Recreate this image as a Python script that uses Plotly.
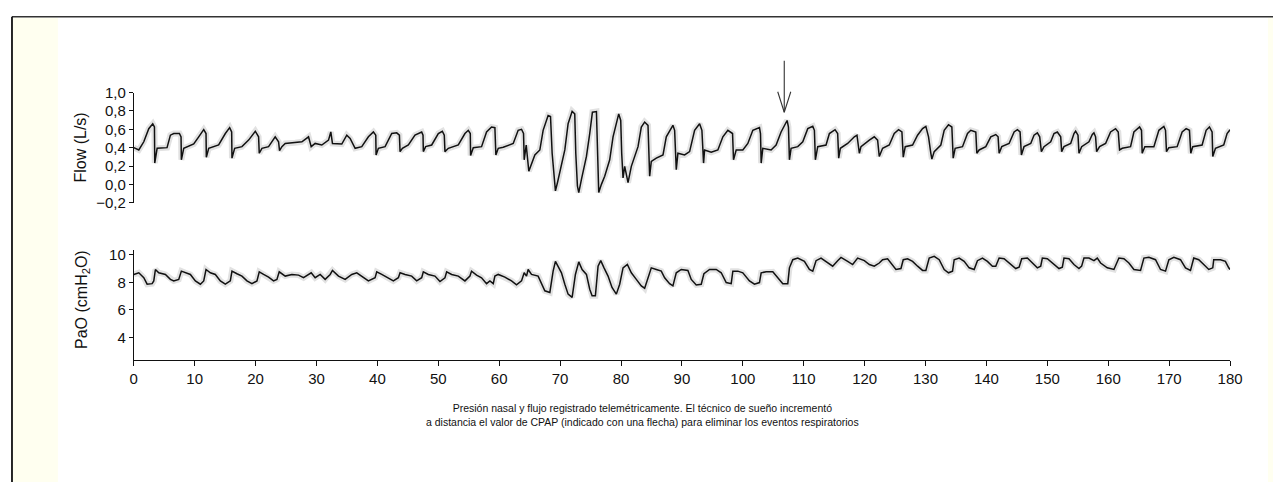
import plotly.graph_objects as go

# ---------------- data ----------------
flow_time = [
    0, 0.82, 1.64, 2.46, 3.11, 3.39, 3.44, 3.83, 5.46, 6.01, 6.56, 7.49, 7.76, 7.81, 8.20,
    9.84, 10.66, 11.48, 11.86, 11.91, 12.30, 13.93, 15.03, 15.74, 16.07, 16.12, 16.56,
    17.76, 18.85, 19.95, 20.49, 20.60, 21.04, 22.13, 23.22, 23.77, 23.93, 24.32, 24.86,
    26.50, 27.60, 28.69, 29.13, 29.78, 30.87, 31.97, 32.35, 32.62, 34.15, 34.97, 35.52,
    36.34, 37.43, 38.52, 39.34, 39.73, 39.78, 40.16, 41.26, 42.35, 43.17, 43.61, 43.72,
    44.10, 45.08, 46.17, 47.27, 47.49, 47.54, 47.92, 48.91, 50.00, 50.66, 50.98, 51.09,
    51.64, 53.28, 54.37, 54.92, 55.25, 55.30, 55.74, 57.10, 57.92, 58.74, 59.29, 59.45,
    59.84, 60.66, 62.30, 63.11, 63.66, 63.99, 64.10, 64.43, 64.86, 65.85, 66.67, 67.21,
    68.03, 68.42, 68.69, 69.02, 69.23, 69.56, 70.22, 70.77, 71.31, 71.97, 72.40, 72.57,
    72.84, 73.06, 73.50, 74.32, 74.86, 75.30, 75.96, 76.12, 76.34, 76.78, 77.32, 78.14,
    78.69, 79.62, 79.95, 80.11, 80.33, 80.60, 81.15, 81.69, 82.79, 83.33, 83.88, 84.43,
    84.70, 84.97, 85.79, 86.89, 87.43, 88.52, 88.80, 89.07, 89.34, 90.44, 91.26, 92.08,
    92.90, 93.28, 93.55, 93.72, 94.81, 95.90, 96.72, 97.54, 98.31, 98.47, 98.91, 100.0,
    100.82, 101.64, 102.73, 102.90, 103.01, 103.28, 104.64, 105.46, 106.28, 107.27, 107.49,
    107.65, 107.92, 109.02, 109.84, 110.66, 111.48, 111.75, 111.91, 112.30, 113.66, 114.21,
    115.14, 115.57, 115.74, 116.01, 117.21, 118.31, 118.74, 119.13, 119.40, 120.77, 121.58,
    122.13, 122.40, 122.95, 124.04, 124.86, 125.57, 126.12, 126.34, 126.67, 127.87, 128.69,
    129.51, 130.05, 130.49, 130.87, 131.04, 131.42, 132.51, 133.06, 133.77, 134.32, 134.54,
    134.86, 136.07, 136.89, 137.43, 138.25, 138.42, 138.80, 139.89, 140.71, 141.53, 141.91,
    142.08, 142.51, 143.72, 144.54, 145.08, 145.52, 145.74, 146.17, 147.27, 147.81, 148.36,
    148.74, 149.02, 149.45, 150.55, 151.09, 151.64, 152.19, 152.35, 152.73, 153.83, 154.37,
    154.64, 155.03, 155.19, 155.63, 156.83, 157.38, 157.65, 157.92, 158.09, 158.58, 159.56,
    160.38, 161.20, 161.64, 161.86, 162.30, 163.66, 164.21, 165.14, 165.46, 165.57, 166.01,
    167.49, 168.31, 169.13, 169.40, 169.56, 169.95, 171.31, 172.13, 172.79, 173.33, 173.55,
    173.88, 175.41, 176.07, 176.61, 177.05, 177.16, 177.60, 178.96, 179.51, 180.0,
]
flow_lps = [
    0.40, 0.375, 0.464, 0.607, 0.66, 0.625, 0.232, 0.393, 0.40, 0.536, 0.554, 0.554, 0.518, 0.268, 0.393,
    0.44, 0.518, 0.596, 0.554, 0.296, 0.393, 0.429, 0.554, 0.618, 0.571, 0.286, 0.393,
    0.411, 0.482, 0.579, 0.518, 0.339, 0.393, 0.411, 0.518, 0.464, 0.368, 0.411, 0.446,
    0.454, 0.464, 0.518, 0.411, 0.446, 0.429, 0.482, 0.571, 0.446, 0.439, 0.536, 0.50,
    0.393, 0.411, 0.518, 0.571, 0.536, 0.321, 0.393, 0.411, 0.554, 0.561, 0.536, 0.357,
    0.393, 0.429, 0.536, 0.571, 0.536, 0.357, 0.411, 0.429, 0.554, 0.579, 0.536, 0.357,
    0.393, 0.429, 0.554, 0.589, 0.554, 0.314, 0.40, 0.411, 0.571, 0.625, 0.618, 0.321,
    0.393, 0.404, 0.446, 0.589, 0.60, 0.554, 0.268, 0.429, 0.143, 0.321, 0.375, 0.589,
    0.75, 0.739, 0.339, 0.018, -0.071, 0.018, 0.196, 0.375, 0.661, 0.796, 0.768, 0.339,
    -0.018, -0.089, 0.054, 0.304, 0.554, 0.786, 0.793, 0.339, -0.089, 0.0, 0.089, 0.268,
    0.518, 0.768, 0.696, 0.339, 0.071, 0.196, 0.018, 0.196, 0.411, 0.625, 0.679, 0.643,
    0.089, 0.25, 0.286, 0.321, 0.518, 0.643, 0.589, 0.161, 0.339, 0.321, 0.357, 0.589,
    0.661, 0.589, 0.232, 0.375, 0.35, 0.375, 0.518, 0.589, 0.554, 0.268, 0.375, 0.375,
    0.446, 0.589, 0.618, 0.554, 0.232, 0.393, 0.375, 0.429, 0.571, 0.696, 0.625,
    0.268, 0.393, 0.411, 0.464, 0.607, 0.632, 0.589, 0.268, 0.411, 0.429, 0.554,
    0.596, 0.554, 0.286, 0.393, 0.446, 0.518, 0.536, 0.339, 0.411, 0.482, 0.518,
    0.482, 0.304, 0.393, 0.429, 0.554, 0.596, 0.571, 0.296, 0.411, 0.429, 0.536,
    0.607, 0.632, 0.518, 0.339, 0.275, 0.357, 0.429, 0.589, 0.65, 0.625, 0.286,
    0.393, 0.411, 0.554, 0.589, 0.571, 0.339, 0.375, 0.411, 0.518, 0.543, 0.518,
    0.339, 0.411, 0.446, 0.571, 0.596, 0.571, 0.321, 0.411, 0.446, 0.536, 0.561,
    0.518, 0.357, 0.411, 0.464, 0.554, 0.571, 0.518, 0.357, 0.411, 0.446, 0.554,
    0.579, 0.536, 0.339, 0.411, 0.464, 0.543, 0.561, 0.518, 0.357, 0.411, 0.446,
    0.571, 0.607, 0.571, 0.375, 0.393, 0.411, 0.571, 0.625, 0.589, 0.339, 0.411,
    0.411, 0.589, 0.632, 0.589, 0.357, 0.40, 0.411, 0.571, 0.607, 0.589, 0.339,
    0.411, 0.429, 0.589, 0.625, 0.571, 0.304, 0.393, 0.429, 0.554, 0.596,
]

pao_time = [
    0, 0.82, 1.64, 2.19, 3.01, 3.28, 3.55, 4.10, 5.19, 6.01, 6.56, 7.38, 7.81, 8.47, 9.29,
    10.11, 10.93, 11.48, 11.86, 12.57, 13.39, 14.21, 15.03, 15.85, 16.12, 16.94, 17.76,
    18.58, 19.40, 20.22, 20.60, 21.31, 22.13, 22.95, 23.50, 23.88, 24.86, 25.96, 27.05,
    27.87, 28.69, 29.13, 29.78, 30.60, 31.42, 32.24, 32.62, 33.61, 34.70, 35.79, 36.61,
    37.43, 38.52, 39.62, 39.89, 40.71, 41.80, 42.62, 43.44, 43.72, 44.54, 45.63, 46.45,
    47.27, 47.54, 48.36, 49.45, 50.27, 51.09, 51.37, 52.19, 53.28, 54.37, 55.19, 55.46,
    56.28, 57.10, 57.92, 58.47, 59.02, 59.29, 59.84, 60.93, 62.02, 62.84, 63.66, 64.10,
    64.48, 64.75, 65.30, 66.39, 66.94, 67.49, 68.31, 68.85, 69.23, 69.67, 70.22, 70.77,
    71.31, 71.97, 72.51, 73.06, 73.61, 74.32, 74.86, 75.25, 75.79, 76.23, 76.67, 77.21,
    77.87, 78.52, 79.23, 79.78, 80.33, 81.04, 81.69, 82.51, 83.33, 83.88, 84.43, 84.97,
    85.79, 86.61, 87.16, 87.98, 88.52, 89.07, 89.89, 90.98, 91.53, 92.35, 93.17, 93.61,
    94.54, 95.63, 96.45, 97.27, 98.09, 98.36, 99.18, 100.0, 101.09, 101.91, 102.73, 103.01,
    103.83, 104.92, 105.74, 106.56, 107.38, 107.65, 108.20, 109.02, 110.11, 110.93, 111.48,
    112.02, 112.84, 113.93, 114.75, 115.57, 116.12, 117.21, 118.03, 118.85, 119.95, 120.77,
    121.58, 122.40, 122.95, 123.77, 124.32, 125.14, 125.96, 126.34, 127.05, 127.87, 128.69,
    129.51, 130.05, 130.60, 131.42, 132.24, 133.06, 133.77, 134.43, 134.70, 135.52, 136.34,
    137.16, 137.98, 138.52, 139.34, 140.16, 140.98, 141.53, 142.08, 142.90, 143.72, 144.81,
    145.36, 145.79, 146.72, 147.54, 148.36, 148.91, 149.18, 150.00, 150.82, 151.91, 152.46,
    152.73, 153.55, 154.37, 155.19, 155.63, 156.01, 156.83, 157.65, 158.20, 158.74, 159.84,
    160.93, 161.75, 162.57, 163.39, 164.21, 165.30, 165.85, 166.67, 167.76, 168.58, 169.40,
    169.95, 170.77, 171.86, 172.68, 173.50, 174.04, 174.86, 175.68, 176.50, 177.16, 177.32,
    178.42, 179.23, 179.78, 180.0,
]
pao_cmh2o = [
    8.57, 8.69, 8.33, 7.86, 7.90, 8.10, 8.93, 8.69, 8.57, 8.21, 8.10, 8.21, 8.81, 8.69, 8.57,
    8.10, 7.86, 8.10, 8.93, 8.69, 8.57, 8.10, 7.86, 8.10, 8.81, 8.62, 8.45,
    8.10, 7.90, 8.10, 8.76, 8.57, 8.38, 8.10, 8.21, 8.76, 8.45, 8.57, 8.52,
    8.33, 8.57, 8.69, 8.33, 8.57, 8.21, 8.57, 8.86, 8.45, 8.21, 8.57, 8.69,
    8.45, 8.10, 8.33, 8.76, 8.57, 8.33, 8.10, 8.33, 8.69, 8.57, 8.45, 8.10,
    8.33, 8.76, 8.57, 8.45, 8.05, 8.33, 8.76, 8.57, 8.45, 8.10, 8.45, 8.81,
    8.52, 8.33, 7.90, 8.10, 7.90, 8.45, 8.57, 8.38, 8.10, 7.81, 8.10, 8.69,
    8.45, 8.93, 8.57, 8.45, 7.86, 7.38, 7.26, 8.81, 9.52, 9.17, 8.69, 7.86,
    7.14, 6.90, 8.57, 9.48, 8.93, 8.57, 7.50, 7.02, 7.02, 9.17, 9.57, 9.05,
    8.45, 7.62, 7.14, 7.86, 9.05, 9.29, 8.69, 8.21, 7.74, 7.57, 8.33, 9.05,
    8.93, 8.81, 8.33, 7.90, 7.74, 8.69, 8.93, 8.86, 8.21, 7.81, 7.86, 8.62,
    8.93, 8.93, 8.69, 7.98, 7.90, 8.81, 8.81, 8.69, 8.10, 7.86, 7.98, 8.69,
    8.76, 8.76, 8.33, 7.90, 7.90, 9.05, 9.64, 9.76, 9.52, 8.93, 8.81,
    9.57, 9.76, 9.40, 9.17, 9.57, 9.81, 9.52, 9.29, 9.76, 9.57, 9.29,
    9.17, 9.40, 9.64, 9.71, 9.40, 8.93, 9.00, 9.64, 9.71, 9.52, 9.17,
    8.86, 8.86, 9.76, 9.88, 9.64, 8.93, 8.69, 8.81, 9.64, 9.76, 9.52,
    9.05, 8.93, 9.57, 9.76, 9.52, 9.17, 9.17, 9.76, 9.71, 9.40, 9.00,
    9.10, 9.71, 9.76, 9.40, 9.05, 9.17, 9.76, 9.71, 9.40, 9.00, 9.10,
    9.76, 9.71, 9.29, 9.00, 9.17, 9.76, 9.76, 9.57, 9.76, 9.40, 9.05,
    8.93, 9.76, 9.71, 9.40, 8.93, 8.86, 9.76, 9.81, 9.64, 8.93, 8.81,
    9.64, 9.81, 9.64, 9.05, 8.86, 9.76, 9.64, 9.29, 8.93, 9.05, 9.64,
    9.64, 9.52, 9.05, 8.93,
]

x_ticks = [0, 10, 20, 30, 40, 50, 60, 70, 80, 90, 100, 110, 120, 130, 140, 150, 160, 170, 180]
flow_ticks = [-0.2, 0.0, 0.2, 0.4, 0.6, 0.8, 1.0]
flow_tick_text = ["\u22120,2", "0,0", "0,2", "0,4", "0,6", "0,8", "1,0"]
pao_ticks = [4, 6, 8, 10]
pao_tick_text = ["4", "6", "8", "10"]

cpap_arrow_time = 106.8
cpap_arrow_flow = 0.786

flow_title = "Flow (L/s)"
pao_title = "PaO (cmH<sub>2</sub>O)"
caption = ("Presión nasal y flujo registrado telemétricamente. El técnico de sueño incrementó<br>"
           "a distancia el valor de CPAP (indicado con una flecha) para eliminar los eventos respiratorios")

# ---------------- layout helpers ----------------
# Target positions are given in pixels of the 1273x482 picture and converted to
# paper fractions; the figure itself is sized to the captured page area.
REF_W, REF_H = 1273, 482
FIG_W, FIG_H = 1288, 491
def px(x):
    return x / REF_W
def py(y):
    return 1 - y / REF_H

FONT = "Liberation Sans Narrow, Arial Narrow, Liberation Sans, Arial, sans-serif"
halo = "#e2e2e2"

fig = go.Figure()
for xa, ya, t, v in (("x", "y", flow_time, flow_lps), ("x2", "y2", pao_time, pao_cmh2o)):
    fig.add_trace(go.Scatter(x=t, y=v, xaxis=xa, yaxis=ya, mode="lines",
                             line=dict(color=halo, width=6), hoverinfo="skip", showlegend=False))
    fig.add_trace(go.Scatter(x=t, y=v, xaxis=xa, yaxis=ya, mode="lines",
                             line=dict(color="#111111", width=1.5), showlegend=False))

xdom = [px(130), px(1228)]
fig.update_layout(
    width=FIG_W, height=FIG_H, autosize=False,
    margin=dict(l=0, r=0, t=0, b=0),
    paper_bgcolor="white", plot_bgcolor="white",
    font=dict(family=FONT, size=15, color="#111111"),
    showlegend=False,
    xaxis=dict(domain=xdom, range=[0, 180], visible=False, anchor="y"),
    yaxis=dict(domain=[py(197), py(85)], range=[-0.2, 1.0], anchor="x",
               tickvals=flow_ticks, ticktext=flow_tick_text,
               ticks="outside", ticklen=4, tickcolor="#111", tickwidth=1,
               showline=True, linecolor="#111", linewidth=1,
               showgrid=False, zeroline=False, tickfont=dict(size=15)),
    xaxis2=dict(domain=xdom, range=[0, 180], anchor="y2",
                tickvals=x_ticks, ticks="outside", ticklen=5, tickcolor="#111",
                showline=True, linecolor="#111", linewidth=1,
                showgrid=False, zeroline=False, tickfont=dict(size=15)),
    yaxis2=dict(domain=[py(357), py(245)], range=[2.35, 10.35], anchor="x2",
                tickvals=pao_ticks, ticktext=pao_tick_text,
                ticks="outside", ticklen=4, tickcolor="#111",
                showline=True, linecolor="#111", linewidth=1,
                showgrid=False, zeroline=False, tickfont=dict(size=15)),
)

# background strips and frame
cream = "#fffff0"
fig.add_shape(type="rect", xref="paper", yref="paper", x0=px(9), x1=px(54), y0=0, y1=py(9),
              fillcolor=cream, line=dict(width=0), layer="below")
fig.add_shape(type="rect", xref="paper", yref="paper", x0=px(1266), x1=1, y0=0, y1=py(9),
              fillcolor=cream, line=dict(width=0), layer="below")
fig.add_shape(type="line", xref="paper", yref="paper", x0=px(8), x1=1, y0=py(8), y1=py(8),
              line=dict(color="#333333", width=1.5))
fig.add_shape(type="line", xref="paper", yref="paper", x0=px(8), x1=px(8), y0=0, y1=py(8),
              line=dict(color="#111111", width=1.8))

# axis titles
fig.add_annotation(xref="paper", yref="paper", x=px(77), y=py(141), text=flow_title,
                   textangle=-90, showarrow=False, font=dict(size=16), xanchor="center", yanchor="middle")
fig.add_annotation(xref="paper", yref="paper", x=px(78), y=py(295), text=pao_title,
                   textangle=-90, showarrow=False, font=dict(size=16), xanchor="center", yanchor="middle")

# caption
fig.add_annotation(xref="paper", yref="paper", x=px(640), y=py(413), text=caption,
                   showarrow=False, font=dict(size=10.5), xanchor="center", yanchor="middle",
                   align="center")

# CPAP arrow: shaft + two wings of an open arrowhead
for ax_, ay_ in ((0, -53), (-7, -22), (7, -22)):
    fig.add_annotation(x=cpap_arrow_time, y=cpap_arrow_flow, xref="x", yref="y", text="",
                       showarrow=True, arrowhead=0, arrowwidth=1.1, arrowcolor="#333333",
                       ax=ax_, ay=ay_, axref="pixel", ayref="pixel", standoff=0)

fig.write_html("out.html", config={"responsive": False})
